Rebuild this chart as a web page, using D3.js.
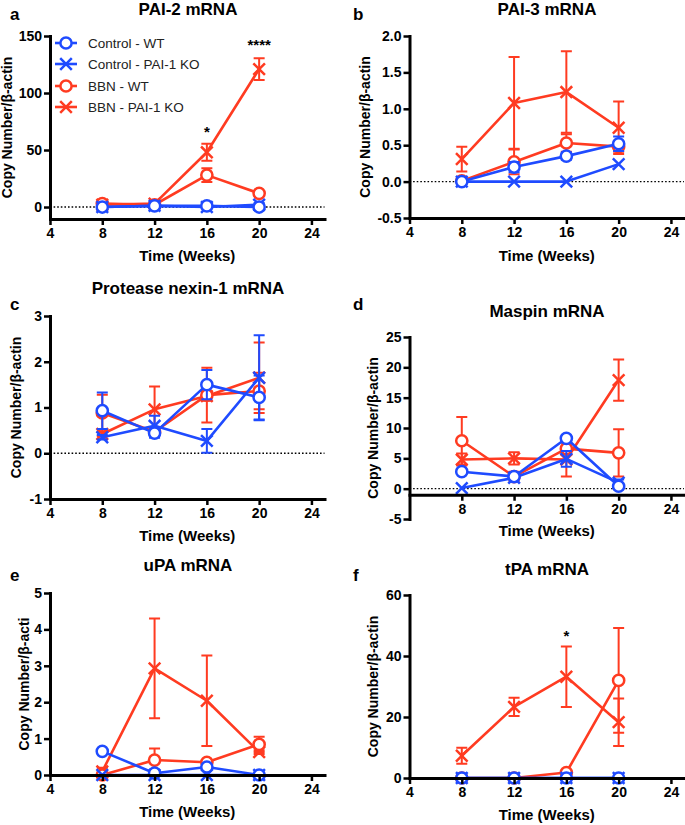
<!DOCTYPE html>
<html><head><meta charset="utf-8">
<script src="https://cdn.jsdelivr.net/npm/d3@7"></script>
<style>
body{margin:0;background:#fff}
svg{display:block}
text{font-family:"Liberation Sans",Arial,Helvetica,sans-serif}
</style>
</head><body>
<svg id="chart" width="685" height="825"></svg>
<script>
// ---------- data ----------
const weeks = [8, 12, 16, 20];
const xTicks = [4, 8, 12, 16, 20, 24];
const groupNames = ["Control - WT", "Control - PAI-1 KO", "BBN - WT", "BBN - PAI-1 KO"];

// a: PAI-2 mRNA
const pai2CtrlWT = [0, 1, 1, 0];        const pai2CtrlWTErr = [0.8, 0.8, 0.8, 0.8];
const pai2CtrlKO = [0, 1, 0, 2];        const pai2CtrlKOErr = [0.5, 0.5, 0.5, 1.5];
const pai2BbnWT = [3, 2, 28, 12];       const pai2BbnWTErr = [1, 1, 6, 2];
const pai2BbnKO = [2, 3, 48, 121];      const pai2BbnKOErr = [1, 1, 7.5, 9.5];
const pai2YTicks = [0, 50, 100, 150];

// b: PAI-3 mRNA
const pai3CtrlWT = [0, 0.2, 0.35, 0.52];   const pai3CtrlWTErr = [0.02, 0.07, 0.05, 0.1];
const pai3CtrlKO = [0, 0, 0, 0.24];        const pai3CtrlKOErr = [0, 0, 0, 0.02];
const pai3BbnWT = [0.01, 0.27, 0.53, 0.48]; const pai3BbnWTErr = [0.01, 0.17, 0.12, 0.07];
const pai3BbnKO = [0.31, 1.08, 1.23, 0.74]; const pai3BbnKOErr = [0.17, 0.63, 0.56, 0.36];
const pai3YTicks = [-0.5, 0, 0.5, 1, 1.5, 2];

// c: Protease nexin-1 mRNA
const pn1CtrlWT = [0.93, 0.44, 1.5, 1.22]; const pn1CtrlWTErr = [0.4, 0.1, 0.32, 0.48];
const pn1CtrlKO = [0.35, 0.6, 0.27, 1.65]; const pn1CtrlKOErr = [0.05, 0.22, 0.26, 0.93];
const pn1BbnWT = [0.88, 0.47, 1.27, 1.36]; const pn1BbnWTErr = [0.4, 0.1, 0.6, 0.4];
const pn1BbnKO = [0.42, 0.96, 1.25, 1.65]; const pn1BbnKOErr = [0.05, 0.5, 0.1, 0.77];
const pn1YTicks = [-1, 0, 1, 2, 3];

// d: Maspin mRNA
const maspinCtrlWT = [2.8, 2.0, 8.3, 0.4];  const maspinCtrlWTErr = [0.3, 0.4, 0.5, 0.5];
const maspinCtrlKO = [0.1, 1.8, 4.9, 1.0];  const maspinCtrlKOErr = [0.1, 0.3, 1.3, 0.5];
const maspinBbnWT = [7.9, 2.0, 6.6, 5.9];   const maspinBbnWTErr = [3.9, 0.8, 1.0, 3.9];
const maspinBbnKO = [4.8, 5.0, 4.8, 17.9];  const maspinBbnKOErr = [1.0, 1.0, 2.8, 3.4];
const maspinYTicks = [-5, 0, 5, 10, 15, 20, 25];

// e: uPA mRNA
const upaCtrlWT = [0.65, 0.05, 0.22, 0];   const upaCtrlWTErr = [0.03, 0.03, 0.05, 0.03];
const upaCtrlKO = [0, 0, 0, 0];            const upaCtrlKOErr = [0.03, 0.03, 0.03, 0.03];
const upaBbnWT = [0, 0.41, 0.35, 0.84];    const upaBbnWTErr = [0.02, 0.32, 0.03, 0.21];
const upaBbnKO = [0.1, 2.93, 2.04, 0.63];  const upaBbnKOErr = [0.1, 1.37, 1.24, 0.05];
const upaYTicks = [0, 1, 2, 3, 4, 5];

// f: tPA mRNA
const tpaCtrlWT = [0, 0, 0, 0];            const tpaCtrlWTErr = [0, 0, 0, 0];
const tpaCtrlKO = [0, 0, 0, 0];            const tpaCtrlKOErr = [0, 0, 0, 0];
const tpaBbnWT = [0, 0, 1.8, 32];          const tpaBbnWTErr = [0, 0, 0.5, 17.2];
const tpaBbnKO = [7.3, 23.3, 33.2, 18.3];  const tpaBbnKOErr = [2.6, 3, 9.9, 7.8];
const tpaYTicks = [0, 20, 40, 60];

// significance marks: [panel, week, label]
const sigMarks = [["a", 16, "*"], ["a", 20, "****"], ["f", 16, "*"]];

// ---------- styling / layout ----------
const BLUE = "#1f4bff", RED = "#ff3b21";
const seriesStyle = [
  {color: BLUE, marker: "circle"},
  {color: BLUE, marker: "x"},
  {color: RED, marker: "circle"},
  {color: RED, marker: "x"}
];

const panels = [
  {letter: "a", title: "PAI-2 mRNA", means: [pai2CtrlWT, pai2CtrlKO, pai2BbnWT, pai2BbnKO],
   errs: [pai2CtrlWTErr, pai2CtrlKOErr, pai2BbnWTErr, pai2BbnKOErr], yTicks: pai2YTicks,
   yDom: [-10.5, 150], yRange: [219, 36], xRange: [50, 324.5], xAxisAt: -10.5,
   fmt: d => String(d), lx: 10, ly: 20, tx: 188, ty: 15, ylx: 11.5, xly: 261, ylab: "Copy Number/β-actin",
   legend: true, sigY: {16: 137, 20: 50}},
  {letter: "b", title: "PAI-3 mRNA", means: [pai3CtrlWT, pai3CtrlKO, pai3BbnWT, pai3BbnKO],
   errs: [pai3CtrlWTErr, pai3CtrlKOErr, pai3BbnWTErr, pai3BbnKOErr], yTicks: pai3YTicks,
   yDom: [-0.5, 2], yRange: [218, 36], xRange: [409.5, 684], xAxisAt: -0.5,
   fmt: d => d.toFixed(1), lx: 353, ly: 20, tx: 547, ty: 15, ylx: 369.5, xly: 261, ylab: "Copy Number/β-actin"},
  {letter: "c", title: "Protease nexin-1 mRNA", means: [pn1CtrlWT, pn1CtrlKO, pn1BbnWT, pn1BbnKO],
   errs: [pn1CtrlWTErr, pn1CtrlKOErr, pn1BbnWTErr, pn1BbnKOErr], yTicks: pn1YTicks,
   yDom: [-1, 3], yRange: [499, 316], xRange: [50, 324.5], xAxisAt: -1,
   fmt: d => String(d), lx: 10, ly: 310, tx: 188, ty: 294, ylx: 20.5, xly: 541, ylab: "Copy Number/β-actin"},
  {letter: "d", title: "Maspin mRNA", means: [maspinCtrlWT, maspinCtrlKO, maspinBbnWT, maspinBbnKO],
   errs: [maspinCtrlWTErr, maspinCtrlKOErr, maspinBbnWTErr, maspinBbnKOErr], yTicks: maspinYTicks,
   yDom: [-5, 25], yRange: [519, 337], xRange: [409.5, 684], xAxisAt: -1, skipX4: true,
   fmt: d => String(d), lx: 353, ly: 310, tx: 547, ty: 317, ylx: 377.5, xly: 536, ylab: "Copy Number/β-actin"},
  {letter: "e", title: "uPA mRNA", means: [upaCtrlWT, upaCtrlKO, upaBbnWT, upaBbnKO],
   errs: [upaCtrlWTErr, upaCtrlKOErr, upaBbnWTErr, upaBbnKOErr], yTicks: upaYTicks,
   yDom: [0, 5], yRange: [775, 593], xRange: [50, 324.5], xAxisAt: 0,
   fmt: d => String(d), lx: 10, ly: 581, tx: 188, ty: 571, ylx: 29, xly: 817, ylab: "Copy Number/β-acti"},
  {letter: "f", title: "tPA mRNA", means: [tpaCtrlWT, tpaCtrlKO, tpaBbnWT, tpaBbnKO],
   errs: [tpaCtrlWTErr, tpaCtrlKOErr, tpaBbnWTErr, tpaBbnKOErr], yTicks: tpaYTicks,
   yDom: [0, 60], yRange: [778, 595], xRange: [409.5, 684], xAxisAt: 0,
   fmt: d => String(d), lx: 353, ly: 581, tx: 547, ty: 575, ylx: 377.5, xly: 820, ylab: "Copy Number/β-actin",
   sigY: {16: 641}}
];

const svg = d3.select("#chart");
const drawOrder = [3, 2, 1, 0];

function drawMarker(g, type, cx, cy, color) {
  if (type === "circle") {
    g.append("circle").attr("cx", cx).attr("cy", cy).attr("r", 5.6)
      .attr("fill", "#fff").attr("stroke", color).attr("stroke-width", 2.5);
  } else {
    const s = 5.8;
    g.append("path").attr("d", `M${cx - s},${cy - s}L${cx + s},${cy + s}M${cx - s},${cy + s}L${cx + s},${cy - s}`)
      .attr("stroke", color).attr("stroke-width", 2.5).attr("fill", "none");
  }
}

panels.forEach(p => {
  const g = svg.append("g");
  const x = d3.scaleLinear().domain([4, 25]).range(p.xRange);
  const y = d3.scaleLinear().domain(p.yDom).range(p.yRange);

  g.append("text").attr("x", p.lx).attr("y", p.ly).text(p.letter)
    .attr("font-size", 17).attr("font-weight", "bold");
  g.append("text").attr("x", p.tx).attr("y", p.ty).text(p.title)
    .attr("text-anchor", "middle").attr("font-size", 17).attr("font-weight", "bold");

  g.append("line").attr("x1", x(4)).attr("x2", x(25)).attr("y1", y(0)).attr("y2", y(0))
    .attr("stroke", "#000").attr("stroke-width", 1.4).attr("stroke-dasharray", "1.6,2");

  drawOrder.forEach(si => {
    const st = seriesStyle[si];
    const vals = p.means[si], errs = p.errs[si];
    const sg = g.append("g");
    weeks.forEach((w, i) => {
      const e = errs[i];
      if (!e) return;
      const cx = x(w), yt = y(vals[i] + e), yb = y(vals[i] - e);
      if (Math.abs(yb - yt) < 3) return;
      sg.append("path")
        .attr("d", `M${cx},${yt}L${cx},${yb}M${cx - 5.5},${yt}L${cx + 5.5},${yt}M${cx - 5.5},${yb}L${cx + 5.5},${yb}`)
        .attr("stroke", st.color).attr("stroke-width", 2).attr("fill", "none");
    });
    const line = d3.line().x((d, i) => x(weeks[i])).y(d => y(d));
    sg.append("path").attr("d", line(vals)).attr("fill", "none")
      .attr("stroke", st.color).attr("stroke-width", 2.6).attr("stroke-linejoin", "round");
    weeks.forEach((w, i) => drawMarker(sg, st.marker, x(w), y(vals[i]), st.color));
  });

  const xAxis = d3.axisBottom(x).tickValues(p.skipX4 ? xTicks.slice(1) : xTicks)
    .tickFormat(d3.format("d")).tickSize(6).tickSizeOuter(0).tickPadding(3);
  const xa = g.append("g").attr("transform", `translate(0,${y(p.xAxisAt)})`).call(xAxis);
  const yAxis = d3.axisLeft(y).tickValues(p.yTicks).tickFormat(p.fmt).tickSize(6).tickSizeOuter(0).tickPadding(2);
  const ya = g.append("g").attr("transform", `translate(${p.xRange[0]},0)`).call(yAxis);
  [xa, ya].forEach(a => {
    a.select(".domain").attr("stroke-width", 3).attr("stroke-linecap", "square");
    a.selectAll(".tick line").attr("stroke-width", 2.5);
    a.selectAll(".tick text").attr("font-size", 14).attr("font-weight", "bold")
      .attr("font-family", "'Liberation Sans',Arial,sans-serif").attr("fill", "#000");
  });

  g.append("text").attr("x", (p.xRange[0] + p.xRange[1]) / 2).attr("y", p.xly).text("Time (Weeks)")
    .attr("text-anchor", "middle").attr("font-size", 15).attr("font-weight", "bold");
  const ymid = (p.yRange[0] + p.yRange[1]) / 2;
  g.append("text").attr("transform", `translate(${p.ylx},${ymid}) rotate(-90)`).text(p.ylab)
    .attr("text-anchor", "middle").attr("font-size", 14).attr("font-weight", "bold");

  sigMarks.filter(s => s[0] === p.letter).forEach(s => {
    g.append("text").attr("x", x(s[1])).attr("y", p.sigY[s[1]]).text(s[2])
      .attr("text-anchor", "middle").attr("font-size", 15).attr("font-weight", "bold");
  });

  if (p.legend) {
    const rowsY = [43, 64, 86, 107];
    groupNames.forEach((name, i) => {
      const st = seriesStyle[i];
      const lg = g.append("g");
      lg.append("line").attr("x1", 55).attr("x2", 77).attr("y1", rowsY[i]).attr("y2", rowsY[i])
        .attr("stroke", st.color).attr("stroke-width", 2.6);
      drawMarker(lg, st.marker, 66, rowsY[i], st.color);
      lg.append("text").attr("x", 88).attr("y", rowsY[i] + 4.8).text(name)
        .attr("font-size", 13.5).attr("fill", "#222");
    });
  }
});
</script>
</body></html>
